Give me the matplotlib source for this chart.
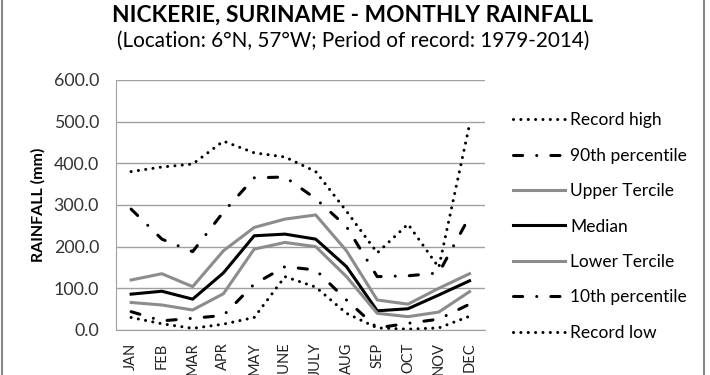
import numpy as np
import matplotlib
matplotlib.use('Agg')
import matplotlib.pyplot as plt
from matplotlib.lines import Line2D

plt.rcParams['font.family'] = ['Lato', 'DejaVu Sans']

months = ['JAN', 'FEB', 'MAR', 'APR', 'MAY', 'JUNE', 'JULY', 'AUG', 'SEP', 'OCT', 'NOV', 'DEC']

# monthly rainfall (mm)
record_high = [380, 391, 398, 453, 425, 415, 380, 285, 185, 254, 150, 493]
pct90       = [290, 218, 188, 283, 365, 367, 315, 248, 128, 130, 137, 272]
upper_terc  = [120, 135, 104, 190, 246, 266, 276, 190, 72, 62, 100, 135]
median      = [86, 93, 74, 137, 226, 230, 218, 152, 46, 51, 84, 118]
lower_terc  = [66, 60, 48, 87, 194, 210, 200, 128, 40, 32, 43, 92]
pct10       = [44, 22, 28, 35, 110, 152, 144, 72, 5, 16, 26, 62]
record_low  = [30, 15, 4, 14, 30, 128, 103, 40, 5, 2, 5, 33]

fig = plt.figure(figsize=(7.1, 3.75), dpi=100)
ax = fig.add_axes([0.163, 0.12, 0.52, 0.667])

x = np.arange(len(months))
dotted = (0, (0.01, 2.4))
dashdot = (0, (3.0, 4.6, 0.01, 4.6))
grey = '#8c8c8c'
ax.plot(x, record_high, color='black', lw=2.2, linestyle=dotted, dash_capstyle='round', label='Record high')
ax.plot(x, pct90, color='black', lw=2.2, linestyle=dashdot, dash_capstyle='round', label='90th percentile')
ax.plot(x, upper_terc, color=grey, lw=2.2, label='Upper Tercile')
ax.plot(x, median, color='black', lw=2.2, label='Median')
ax.plot(x, lower_terc, color=grey, lw=2.2, label='Lower Tercile')
ax.plot(x, pct10, color='black', lw=2.2, linestyle=dashdot, dash_capstyle='round', label='10th percentile')
ax.plot(x, record_low, color='black', lw=2.2, linestyle=dotted, dash_capstyle='round', label='Record low')

ax.set_xlim(-0.5, len(months) - 0.5)
ax.set_ylim(0, 600)
ax.set_yticks(np.arange(0, 601, 100))
ax.set_yticklabels(['%.1f' % v for v in np.arange(0, 601, 100)], fontsize=12.8, color='#333333')
ax.set_xticks(x)
ax.set_xticklabels(months, rotation=90, fontsize=10.5, color='#222222')
ax.tick_params(axis='y', length=0, pad=12)
ax.tick_params(axis='x', length=0, pad=9)
ax.yaxis.grid(True, color='#a0a0a0', lw=1)
ax.set_axisbelow(True)
for s in ['top', 'right']:
    ax.spines[s].set_visible(False)
ax.spines['left'].set_color('#a0a0a0')
ax.spines['bottom'].set_color('#a0a0a0')
ax.set_ylabel('RAINFALL (mm)', fontsize=11.5, fontweight='bold', labelpad=6)

fig.text(0.496, 0.96, 'NICKERIE, SURINAME - MONTHLY RAINFALL', ha='center', va='center',
         fontsize=16.4, fontweight='bold')
fig.text(0.497, 0.89, '(Location: 6°N, 57°W; Period of record: 1979-2014)', ha='center', va='center',
         fontsize=14.9)

ax.legend(loc='center left', bbox_to_anchor=(0.722, 0.396), bbox_transform=fig.transFigure,
          frameon=False, fontsize=12.5, handlelength=3.0, handletextpad=0.3, labelspacing=1.12,
          borderaxespad=0, borderpad=0)

# grey frame at the sides of the picture
fig.add_artist(Line2D([0.003, 0.003], [0, 1], transform=fig.transFigure, color='#888888', lw=1.5))
fig.add_artist(Line2D([0.992, 0.992], [0, 1], transform=fig.transFigure, color='#888888', lw=1.5))

fig.savefig('out.png', dpi=100)
